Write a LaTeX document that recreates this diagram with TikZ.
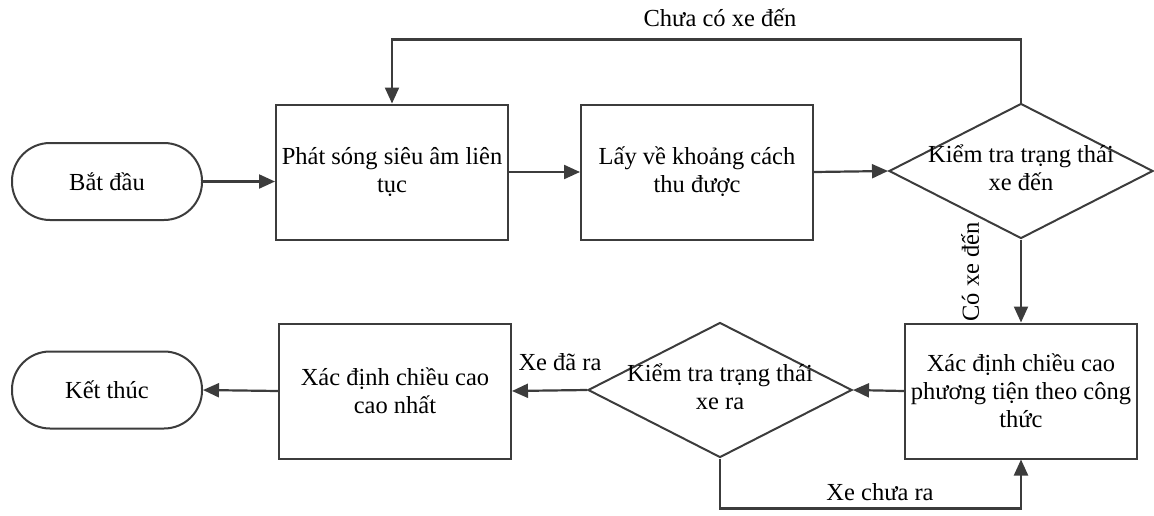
\documentclass[tikz,border=0pt]{standalone}
\usepackage{fontspec}
\setmainfont{Liberation Serif}
\usetikzlibrary{arrows.meta,shapes.geometric}
\definecolor{lc}{HTML}{3c3c3c}
\begin{document}
\begin{tikzpicture}[x=1pt,y=-1pt,
  every node/.style={font=\fontsize{24.5}{28}\selectfont},
  ln/.style={draw=lc, line width=2.2pt},
  arr/.style={ln, -{Triangle[length=16pt,width=14pt]}},
  procbox/.style={draw=lc, line width=2pt, minimum width=232pt, minimum height=135pt, align=center, inner sep=0pt},
  term/.style={draw=lc, line width=2pt, minimum width=190pt, minimum height=77pt, rounded corners=38pt},
  decide/.style={diamond, draw=lc, line width=2pt, minimum width=264pt, minimum height=135pt, inner sep=0pt},
  txt/.style={align=center, inner sep=0pt}
  ]
\useasboundingbox (0,0) rectangle (1154,515);

\node[term] (start) at (107,181.5) {Bắt đầu};
\node[procbox] (b1) at (392,172) {Phát sóng siêu âm liên\\tục};
\node[procbox] (b2) at (697,172) {Lấy về khoảng cách\\thu được};
\node[decide] (d1) at (1021,171) {};
\node[txt] (d1t) at (1021,168) {Kiểm tra trạng thái\\xe đến};

\node[procbox] (b3) at (1021,391) {Xác định chiều cao\\phương tiện theo công\\thức};
\node[decide] (d2) at (720,390) {};
\node[txt] (d2t) at (720,387) {Kiểm tra trạng thái\\xe ra};
\node[procbox] (b4) at (395,391) {Xác định chiều cao\\cao nhất};
\node[term] (end) at (107,390) {Kết thúc};

% labels
\node[txt] (l1) at (720,18) {Chưa có xe đến};
\node[txt, rotate=90] (l2) at (970,272) {Có xe đến};
\node[txt] (l3) at (560,362) {Xe đã ra};
\node[txt] (l4) at (880,492) {Xe chưa ra};

% connectors
\draw[arr] (start.east) -- (start.east -| b1.west);
\draw[arr] (b1.east) -- (b2.west);
\draw[arr] (b2.east) -- (d1.west);
\draw[arr] (d1.north) -- ++(0,-63) -| (b1.north);
\draw[arr] (d1.south) -- (b3.north);
\draw[arr] (b3.west) -- (d2.east);
\draw[arr] (d2.west) -- (b4.east);
\draw[arr] (b4.west) -- (end.east);
\draw[arr] (d2.south) -- ++(0,50) -| (b3.south);
\end{tikzpicture}
\end{document}
